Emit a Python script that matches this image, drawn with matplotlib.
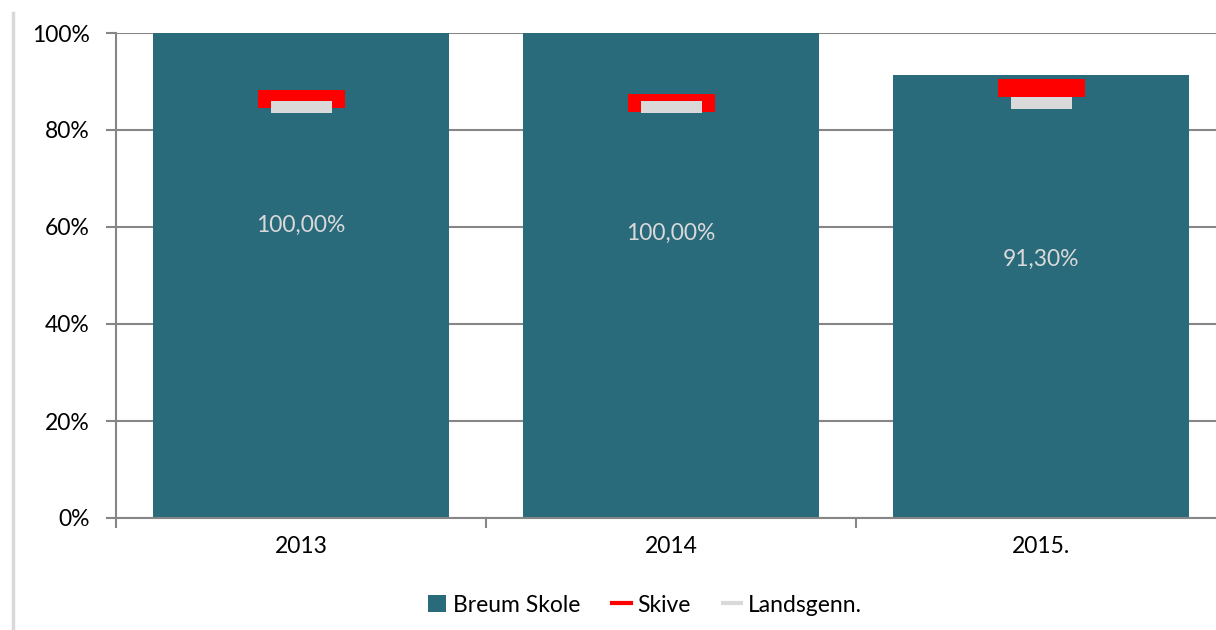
import matplotlib
matplotlib.use("Agg")
import matplotlib.pyplot as plt
from matplotlib.path import Path
from matplotlib.lines import Line2D
from matplotlib.patches import Patch
import numpy as np

plt.rcParams['font.family'] = ['Lato', 'DejaVu Sans']

categories = ["2013", "2014", "2015."]
breum = [100.0, 100.0, 91.3]
skive = [86.4, 85.6, 88.7]
lands = [84.8, 84.8, 85.6]
labels = ["100,00%", "100,00%", "91,30%"]
label_y = [60.4, 58.6, 53.3]
yticks = [0, 20, 40, 60, 80, 100]

bar_color = "#296A7B"
red = "#FF0000"
grey = "#D9D9D9"
grid_color = "#868686"
FS = 16.5

W, H = 1216, 630
fig = plt.figure(figsize=(W / 100, H / 100), dpi=100)
ax = fig.add_axes([116 / W, 112 / H, 1110 / W, 485 / H])

x = np.arange(len(categories))
ax.bar(x, breum, width=0.8, color=bar_color, zorder=2)

def rect_marker(w, h):
    hw, hh = 0.5, 0.5 * h / w
    return Path([(-hw, -hh), (hw, -hh), (hw, hh), (-hw, hh), (-hw, -hh)],
                [Path.MOVETO, Path.LINETO, Path.LINETO, Path.LINETO, Path.CLOSEPOLY])

px = 72 / 100
ax.plot(x, skive, linestyle='none', marker=rect_marker(87, 18), markersize=87 * px,
        markerfacecolor=red, markeredgewidth=0, zorder=3)
ax.plot(x, lands, linestyle='none', marker=rect_marker(61, 12), markersize=61 * px,
        markerfacecolor=grey, markeredgewidth=0, zorder=4)

for xi, yl, t in zip(x, label_y, labels):
    ax.text(xi, yl, t, ha='center', va='center', color="#D9D9D9", fontsize=FS, zorder=5)

ax.set_xlim(-0.5, 2.5)
ax.set_ylim(0, 100)
ax.set_yticks(yticks)
ax.set_yticklabels([f"{v}%" for v in yticks], fontsize=FS)
ax.yaxis.grid(True, color=grid_color, linewidth=1.5, zorder=1)
ax.set_axisbelow(True)

ax.set_xticks(x)
ax.set_xticklabels(categories, fontsize=FS)
ax.tick_params(axis='x', length=0, pad=13)
ax.set_xticks([-0.5, 0.5, 1.5, 2.5], minor=True)
ax.tick_params(axis='x', which='minor', length=7, color=grid_color, width=1.5, direction='out')
ax.tick_params(axis='y', length=7, color=grid_color, width=1.5, direction='out', pad=12)

for s in ['top', 'right']:
    ax.spines[s].set_visible(False)
ax.spines['left'].set_color(grid_color)
ax.spines['left'].set_linewidth(1.5)
ax.spines['bottom'].set_color(grid_color)
ax.spines['bottom'].set_linewidth(1.5)

handles = [Patch(facecolor=bar_color, edgecolor='none'),
           Line2D([0], [0], color=red, linewidth=3),
           Line2D([0], [0], color=grey, linewidth=3)]
fig.legend(handles, ["Breum Skole", "Skive", "Landsgenn."], loc='center',
           bbox_to_anchor=(645 / W, 1 - 605 / H), ncol=3, frameon=False, fontsize=FS,
           handlelength=0.8, handleheight=0.8, handletextpad=0.3, columnspacing=1.4)

fig.add_artist(Line2D([12.5 / W, 12.5 / W], [0, 1 - 13 / H], color=grey, linewidth=2.5,
                      transform=fig.transFigure))

fig.savefig("out.png", dpi=100)
